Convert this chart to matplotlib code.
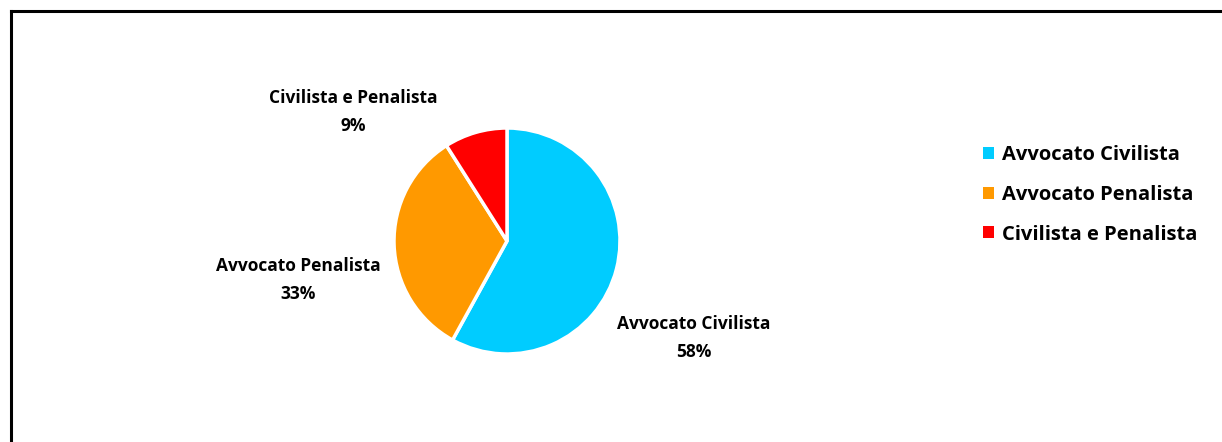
import matplotlib
matplotlib.use('Agg')
import matplotlib.pyplot as plt
from matplotlib.lines import Line2D
from matplotlib.patches import Patch

categories = ['Avvocato Civilista', 'Avvocato Penalista', 'Civilista e Penalista']
values = [58, 33, 9]
colors = ['#00CCFF', '#FF9900', '#FF0000']

W, H = 1222, 442
plt.rcParams['font.family'] = ['Open Sans', 'DejaVu Sans']
plt.rcParams['font.weight'] = 'bold'

fig = plt.figure(figsize=(W / 100, H / 100), dpi=100)
ax = fig.add_axes([0, 0, 1, 1])

# pie in pixel coords (y flipped -> counterclock=True draws clockwise on screen)
ax.pie(values, colors=colors, startangle=-90, counterclock=True,
       center=(507, 241), radius=113,
       wedgeprops=dict(edgecolor='white', linewidth=2.5))
ax.set_xlim(0, W)
ax.set_ylim(H, 0)
ax.set_aspect('auto')
ax.axis('off')

label_pos = [(694, 338), (298, 280), (353, 112)]
for cat, v, (x, y) in zip(categories, values, label_pos):
    ax.text(x, y, f'{cat}\n{v}%', ha='center', va='center', fontsize=12.5,
            fontweight='bold', linespacing=1.65, color='black')

handles = [Patch(facecolor=c, edgecolor='none') for c in colors]
fig.legend(handles, categories, loc='center left', bbox_to_anchor=(965 / W, 1 - 195 / H),
           frameon=False, prop=dict(size=14.5, weight='bold'), handlelength=0.55,
           handleheight=0.55, handletextpad=0.4, labelspacing=0.97)

# chart frame (top and left edges visible)
fig.add_artist(Line2D([11 / W, 1], [1 - 11 / H, 1 - 11 / H], color='black', lw=2.2,
                      transform=fig.transFigure))
fig.add_artist(Line2D([11 / W, 11 / W], [0, 1 - 11 / H], color='black', lw=2.2,
                      transform=fig.transFigure))

fig.savefig('out.png', dpi=100)
